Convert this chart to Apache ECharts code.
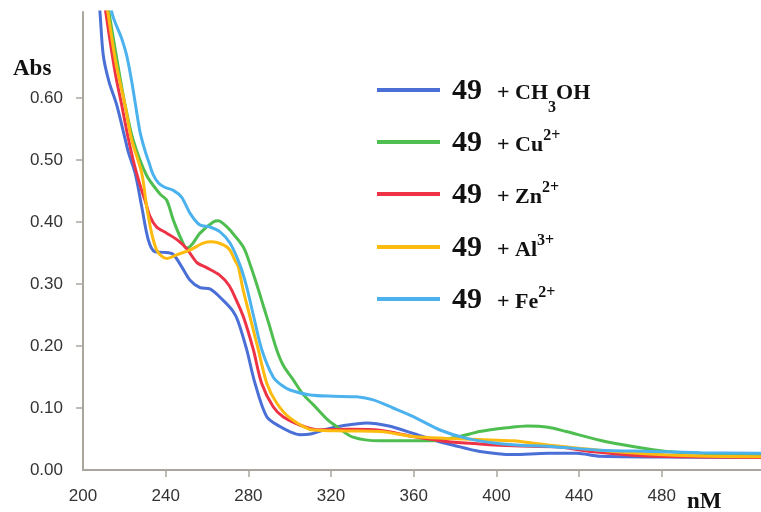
<!DOCTYPE html>
<html>
<head>
<meta charset="utf-8">
<script src="https://cdn.jsdelivr.net/npm/echarts@6/dist/echarts.min.js"></script>
<style>html,body{margin:0;padding:0;background:#fff}#c{width:761px;height:512px}</style>
</head>
<body>
<div id="c"></div>
<script>
// ---- data (wavelength nm, absorbance) ----
const nmCH3OH  = [204, 208.2, 209.8, 212.6, 216.3, 220.3, 222, 225.2, 228.4, 231.6, 234.8, 239, 243.5, 247.7, 251.8, 256.6, 261.4, 267.7, 272.6, 275, 279.2, 283.2, 288.9, 295.3, 300, 305, 310, 316.3, 325, 337.3, 348, 359.8, 370, 379.2, 392, 408, 425, 439, 450, 480, 528];
const absCH3OH = [0.90, 0.739, 0.669, 0.626, 0.589, 0.535, 0.512, 0.479, 0.425, 0.371, 0.352, 0.351, 0.348, 0.328, 0.306, 0.294, 0.292, 0.274, 0.256, 0.240, 0.194, 0.140, 0.086, 0.070, 0.062, 0.057, 0.058, 0.0645, 0.071, 0.076, 0.071, 0.059, 0.048, 0.040, 0.030, 0.025, 0.027, 0.027, 0.022, 0.021, 0.020];

const nmCu  = [207, 211.5, 216, 220.3, 224.3, 230.8, 237.3, 240.5, 243.7, 247.7, 250.2, 253, 256.6, 263, 265.5, 268, 271.1, 277.5, 281, 284, 287.5, 290, 293.7, 297, 301.8, 306.5, 311.5, 318, 322.7, 330.6, 343.5, 367.7, 382.2, 391.9, 405, 415, 425, 433.8, 450, 466, 482.4, 498.5, 528];
const absCu = [0.86, 0.76, 0.67, 0.59, 0.532, 0.475, 0.445, 0.435, 0.403, 0.371, 0.358, 0.365, 0.382, 0.400, 0.402, 0.397, 0.387, 0.360, 0.330, 0.300, 0.262, 0.235, 0.194, 0.168, 0.145, 0.122, 0.105, 0.082, 0.070, 0.053, 0.047, 0.047, 0.054, 0.062, 0.068, 0.071, 0.069, 0.062, 0.048, 0.038, 0.030, 0.027, 0.025];

const nmZn  = [206, 211, 215.5, 218.7, 221.9, 225, 228, 230, 232.4, 235.6, 240.5, 245.3, 250.2, 255, 260, 265.8, 270.6, 273.9, 277.6, 282.4, 286.4, 292, 296.8, 304.9, 313, 329.2, 343.5, 359.6, 375.8, 392, 408.2, 430, 445.7, 470, 502, 528];
const absZn = [0.86, 0.739, 0.642, 0.589, 0.535, 0.49, 0.455, 0.435, 0.409, 0.392, 0.382, 0.372, 0.357, 0.335, 0.326, 0.315, 0.298, 0.276, 0.247, 0.194, 0.140, 0.102, 0.086, 0.0726, 0.065, 0.0656, 0.064, 0.054, 0.046, 0.042, 0.039, 0.037, 0.030, 0.023, 0.021, 0.020];

const nmAl  = [207, 212, 216, 220.3, 223.5, 228.4, 230.8, 233.2, 235.6, 238, 240.5, 245.3, 251.8, 258.2, 262.3, 267.9, 271, 273.5, 275.1, 277.5, 280.8, 284.8, 288.9, 293.7, 300.1, 311.4, 327.5, 343.7, 359.8, 376, 392, 408, 426, 450, 474, 498, 528];
const absAl = [0.86, 0.739, 0.655, 0.589, 0.533, 0.479, 0.425, 0.382, 0.355, 0.345, 0.341, 0.347, 0.355, 0.366, 0.368, 0.363, 0.355, 0.338, 0.328, 0.290, 0.247, 0.194, 0.140, 0.108, 0.084, 0.0645, 0.063, 0.062, 0.054, 0.051, 0.049, 0.047, 0.040, 0.032, 0.026, 0.0226, 0.0215];

const nmFe  = [209, 213.9, 218.7, 221.1, 223.6, 225.4, 227.6, 230, 232, 234, 236.5, 239.5, 243.7, 247.7, 251.8, 256.6, 261.4, 266.3, 271.1, 276, 279.2, 282.4, 286.5, 292, 296, 300.1, 309.8, 321, 332.4, 340.4, 350, 359.8, 372.7, 385.6, 400.1, 411.4, 426, 450, 474, 498.5, 528];
const absFe = [0.88, 0.739, 0.696, 0.669, 0.626, 0.589, 0.545, 0.515, 0.495, 0.476, 0.463, 0.456, 0.451, 0.440, 0.414, 0.395, 0.392, 0.384, 0.366, 0.33, 0.295, 0.250, 0.194, 0.150, 0.137, 0.129, 0.121, 0.119, 0.118, 0.113, 0.100, 0.086, 0.0645, 0.051, 0.043, 0.040, 0.038, 0.032, 0.030, 0.028, 0.027];

const seriesNames = ['CH3OH', 'Cu2+', 'Zn2+', 'Al3+', 'Fe2+'];
const legendLabels = {
  'CH3OH': '{a|49}{p|+ CH}{sub|3}{b|OH}',
  'Cu2+':  '{a|49}{p|+ Cu}{sup|2+}',
  'Zn2+':  '{a|49}{p|+ Zn}{sup|2+}',
  'Al3+':  '{a|49}{p|+ Al}{sup|3+}',
  'Fe2+':  '{a|49}{p|+ Fe}{sup|2+}'
};
const xLabelValues = [200, 240, 280, 320, 360, 400, 440, 480];
const xTickValues = [240, 280, 320, 360, 400, 440, 480];
const yLabelValues = [0, 0.1, 0.2, 0.3, 0.4, 0.5, 0.6];
const yTickValues = [0.1, 0.2, 0.3, 0.4, 0.5, 0.6];

const colors = ['#4a6fd6', '#4fbe50', '#ee3346', '#fdbb10', '#4cb2ee'];
const zip = (a, b) => a.map((v, i) => [v, b[i]]);
const dataSets = [zip(nmCH3OH, absCH3OH), zip(nmCu, absCu), zip(nmZn, absZn), zip(nmAl, absAl), zip(nmFe, absFe)];

const serif = '"Liberation Serif", "Times New Roman", serif';
const rich = {
  a:   { fontFamily: serif, fontWeight: 'bold', fontSize: 30, color: '#111', padding: [12, 0, 10, 7], verticalAlign: 'bottom' },
  p:   { fontFamily: serif, fontWeight: 'bold', fontSize: 22, color: '#111', padding: [0, 0, 12, 15], verticalAlign: 'bottom' },
  b:   { fontFamily: serif, fontWeight: 'bold', fontSize: 22, color: '#111', padding: [0, 0, 12, 0], verticalAlign: 'bottom' },
  sub: { fontFamily: serif, fontWeight: 'bold', fontSize: 16, color: '#111', padding: [0, 0, 0, 0], verticalAlign: 'bottom' },
  sup: { fontFamily: serif, fontWeight: 'bold', fontSize: 16, color: '#111', padding: [12, 0, 0, 0], verticalAlign: 'top' }
};
const rowY = [89, 141, 193, 246, 298];
const legends = seriesNames.map((n, i) => ({
  data: [n], left: 377, top: rowY[i] - 13, padding: 0, icon: 'rect',
  itemWidth: 63, itemHeight: 4, selectedMode: false,
  formatter: name => legendLabels[name],
  textStyle: { rich: rich }
}));

const axisColor = '#aaa69e';
const chart = echarts.init(document.getElementById('c'), null, { renderer: 'canvas' });
chart.setOption({
  backgroundColor: '#ffffff',
  animation: false,
  grid: { left: 83, right: 0, top: 12, bottom: 42, containLabel: false },
  legend: legends,
  xAxis: {
    type: 'value', min: 200, max: 528,
    axisLine: { show: true, lineStyle: { color: axisColor, width: 2 } },
    axisTick: { show: true, length: 7, customValues: xTickValues, lineStyle: { color: axisColor, width: 1.5 } },
    axisLabel: { customValues: xLabelValues, margin: 18, color: '#333', fontSize: 17, fontFamily: '"Liberation Sans", Arial, sans-serif' },
    splitLine: { show: false }
  },
  yAxis: {
    type: 'value', min: 0, max: 0.7387,
    axisLine: { show: true, lineStyle: { color: axisColor, width: 2 } },
    axisTick: { show: true, length: 7, customValues: yTickValues, lineStyle: { color: axisColor, width: 1.5 } },
    axisLabel: { customValues: yLabelValues, margin: 20, color: '#333', fontSize: 17, fontFamily: '"Liberation Sans", Arial, sans-serif', formatter: v => v.toFixed(2) },
    splitLine: { show: false }
  },
  graphic: [
    { type: 'text', left: 13, top: 58, style: { text: 'Abs', font: 'bold 23px ' + serif, fill: '#111' } },
    { type: 'text', left: 687, top: 491, style: { text: 'nM', font: 'bold 23px ' + serif, fill: '#111' } }
  ],
  series: seriesNames.map((n, i) => ({
    name: n, type: 'line', data: dataSets[i], showSymbol: false, symbol: 'none',
    smooth: 0.3, clip: true,
    lineStyle: { color: colors[i], width: 3 },
    itemStyle: { color: colors[i] }
  }))
});
</script>
</body>
</html>
